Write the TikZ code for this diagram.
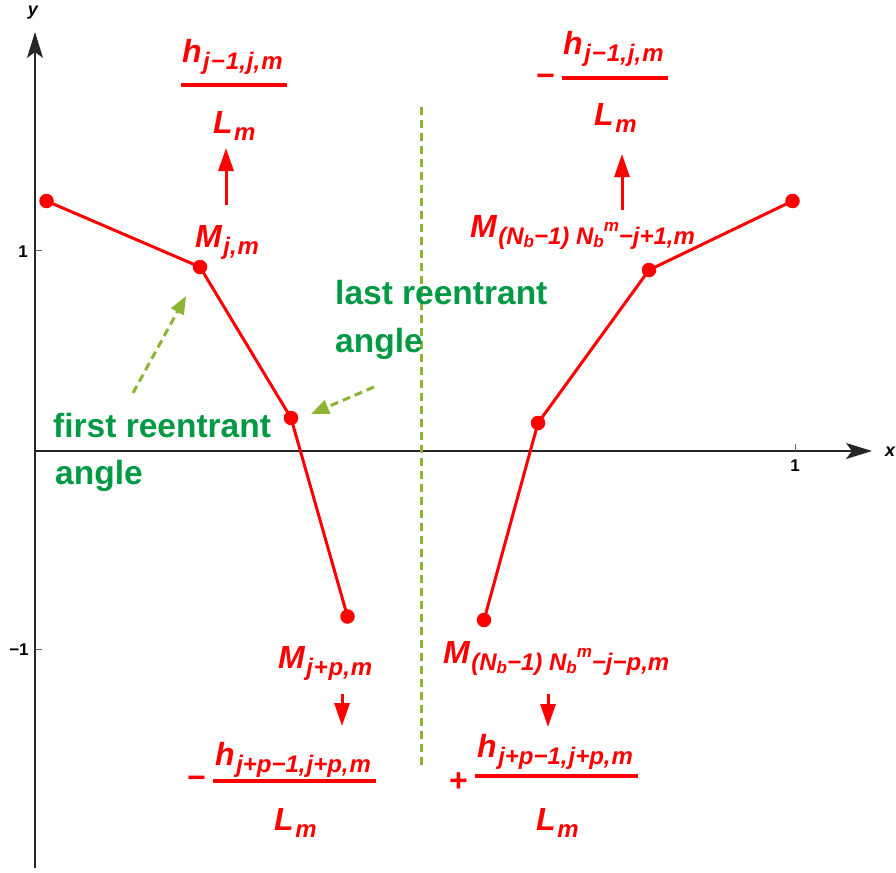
\documentclass[tikz,border=0pt]{standalone}
\usepackage{fontspec}
\setmainfont{Liberation Sans}
\usetikzlibrary{arrows.meta}
\definecolor{pred}{RGB}{255,0,0}
\definecolor{tgreen}{RGB}{0,153,68}
\definecolor{dashgreen}{RGB}{141,180,50}
\newcommand\bigfs{\fontsize{32}{32}\selectfont\bfseries\itshape}
\newcommand\smfs{\fontsize{24}{24}\selectfont\bfseries\itshape}
\newcommand\tnfs{\fontsize{17}{17}\selectfont\bfseries\itshape}
\newcommand\lsub[1]{\kern1.5pt\raisebox{-7pt}{\smfs #1}}
\newcommand\llsub[1]{\raisebox{-3pt}{\tnfs #1}}
\newcommand\lsup[1]{\raisebox{13pt}{\tnfs #1}}
\newcommand\mi{\kern1pt−\kern1pt}
\newcommand\pl{\kern0.8pt+\kern0.8pt}
\newcommand\cm{,\kern1pt}
\begin{document}
\begin{tikzpicture}[x=1pt,y=-1pt,
  dot/.style={circle,fill=pred,inner sep=0pt,minimum size=14.5pt},
  redline/.style={pred,line width=3pt},
  lbl/.style={inner sep=0pt,anchor=base west,text=pred,font=\bigfs},
  glbl/.style={inner sep=0pt,anchor=base west,text=tgreen,font=\fontsize{33.5}{33.5}\selectfont\bfseries},
  fracbar/.style={pred,line width=3.5pt},
  redarrow/.style={pred,line width=3pt,-{Triangle[length=23pt,width=15pt]}},
  grarrow/.style={dashgreen,line width=3pt,dash pattern=on 8pt off 5pt,-{Triangle[length=18pt,width=14pt]}},
  axisline/.style={black!85,line width=1.2pt,-{Stealth[length=26pt,width=16pt,inset=6pt]}},
  tickline/.style={black!60,line width=1pt},
  ticklbl/.style={inner sep=0pt,font=\fontsize{17}{17}\selectfont\bfseries},
  axlbl/.style={inner sep=0pt,font=\fontsize{18}{18}\selectfont\bfseries\itshape},
]
\useasboundingbox (0,0) rectangle (896,872);
\fill[white] (0,0) rectangle (896,872);

% axes
\coordinate (ybot) at (35,868);
\coordinate (ytop) at (35,32);
\coordinate (xl) at (35,451);
\coordinate (xr) at (872,451);
\draw[axisline] (ybot) -- (ytop);
\draw[axisline] (xl) -- (xr);
\node[axlbl] (ylab) at (33,13) {y};
\node[axlbl] (xlab) at (890,452) {x};
% ticks
\coordinate (tx1a) at (795,451); \coordinate (tx1b) at (795,444);
\coordinate (ty1a) at (35,250); \coordinate (ty1b) at (42,250);
\coordinate (tym1a) at (35,649); \coordinate (tym1b) at (42,649);
\draw[tickline] (tx1a) -- (tx1b);
\draw[tickline] (ty1a) -- (ty1b);
\draw[tickline] (tym1a) -- (tym1b);
\node[ticklbl] (xone) at (795,466) {1};
\node[ticklbl] (yone) at (23,252) {1};
\node[ticklbl] (ymone) at (19,650) {−1};

% dashed symmetry line
\coordinate (dtop) at (421,107);
\coordinate (dbot) at (421,768);
\draw[dashgreen,line width=3pt,dash pattern=on 8pt off 5pt] (dtop) -- (dbot);

% left polygon
\node[dot] (p1) at (46.5,201) {};
\node[dot] (p2) at (200,267) {};
\node[dot] (p3) at (291,418) {};
\node[dot] (p4) at (347.5,616.5) {};
\draw[redline] (p1.center) -- (p2.center) -- (p3.center) -- (p4.center);
% right polygon
\node[dot] (q1) at (484,620) {};
\node[dot] (q2) at (538,423) {};
\node[dot] (q3) at (649,270) {};
\node[dot] (q4) at (792.5,201) {};
\draw[redline] (q1.center) -- (q2.center) -- (q3.center) -- (q4.center);

% top left label
\node[lbl] (hTL) at (182,63) {h\lsub{j\mi1\cm j\cm m}};
\coordinate (barTLa) at (181,85); \coordinate (barTLb) at (287,85);
\draw[fracbar] (barTLa) -- (barTLb);
\node[lbl] (LTL) at (213,133) {L\lsub{m}};
\node[lbl] (MTL) at (195,247) {M\lsub{j\cm m}};
\coordinate (aTLs) at (226,205); \coordinate (aTLe) at (226,148);
\draw[redarrow] (aTLs) -- (aTLe);

% top right label
\node[inner sep=0pt,text=pred,font=\bigfs] (mTR) at (545,80) {−};
\node[lbl] (hTR) at (563,55) {h\lsub{j\mi1\cm j\cm m}};
\coordinate (barTRa) at (562,78); \coordinate (barTRb) at (668,78);
\draw[fracbar] (barTRa) -- (barTRb);
\node[lbl] (LTR) at (594,125) {L\lsub{m}};
\node[lbl] (MTR) at (470,237) {M\lsub{(N\llsub{b}−1) N\llsub{b}\lsup{m}−j+1,m}};
\coordinate (aTRs) at (622,210); \coordinate (aTRe) at (622,154);
\draw[redarrow] (aTRs) -- (aTRe);

% bottom left label
\node[lbl] (MBL) at (278,668) {M\lsub{j\pl p\cm m}};
\coordinate (aBLs) at (342,694); \coordinate (aBLe) at (342,726);
\draw[redarrow] (aBLs) -- (aBLe);
\node[inner sep=0pt,text=pred,font=\bigfs] (mBL) at (196,782) {−};
\node[lbl] (hBL) at (215,765) {h\lsub{j+p−1\cm j+p\cm m}};
\coordinate (barBLa) at (213,781); \coordinate (barBLb) at (376,781);
\draw[fracbar] (barBLa) -- (barBLb);
\node[lbl] (LBL) at (274,830) {L\lsub{m}};

% bottom right label
\node[lbl] (MBR) at (443,663) {M\lsub{(N\llsub{b}−1) N\llsub{b}\lsup{m}−j−p,m}};
\coordinate (aBRs) at (548,694); \coordinate (aBRe) at (548,727);
\draw[redarrow] (aBRs) -- (aBRe);
\node[inner sep=0pt,text=pred,font=\bigfs] (pBR) at (458,782) {+};
\node[lbl] (hBR) at (477,757) {h\lsub{j+p−1\cm j+p\cm m}};
\coordinate (barBRa) at (475,776); \coordinate (barBRb) at (638,776);
\draw[fracbar] (barBRa) -- (barBRb);
\node[lbl] (LBR) at (536,830) {L\lsub{m}};

% green annotations
\node[glbl] (first1) at (53,437) {first reentrant};
\node[glbl] (first2) at (55,484) {angle};
\node[glbl] (last1) at (335,304) {last reentrant};
\node[glbl] (last2) at (335,352) {angle};
\coordinate (g1s) at (133,393); \coordinate (g1e) at (186,296);
\draw[grarrow] (g1s) -- (g1e);
\coordinate (g2s) at (374,387); \coordinate (g2e) at (311,414);
\draw[grarrow] (g2s) -- (g2e);
\end{tikzpicture}
\end{document}
